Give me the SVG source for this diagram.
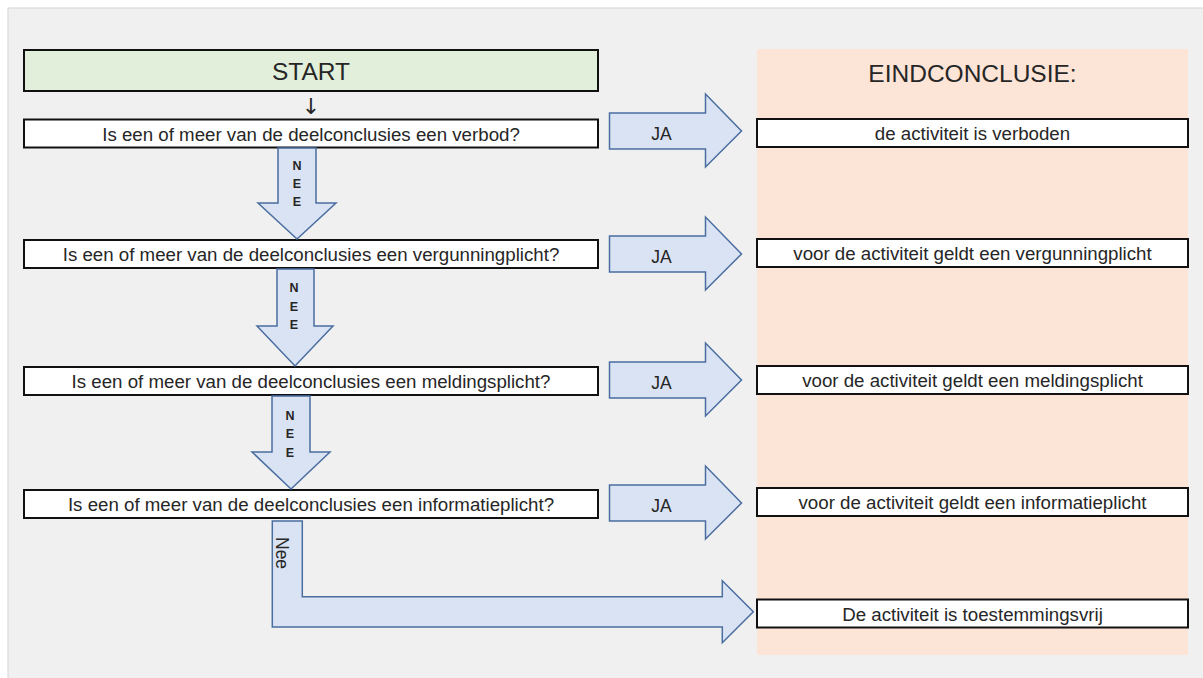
<svg xmlns="http://www.w3.org/2000/svg" width="1203" height="678" viewBox="0 0 1203 678">
  <style>
    .box { fill: #ffffff; stroke: #111111; stroke-width: 2; }
    .t { font-family: "Liberation Sans", Arial, sans-serif; font-size: 18.7px; fill: #262626; text-anchor: middle; }
    .title { font-family: "Liberation Sans", Arial, sans-serif; font-size: 24.5px; fill: #262626; text-anchor: middle; }
    .arr { fill: #dae3f3; stroke: #4a6ea0; stroke-width: 1.5; stroke-linejoin: miter; }
    .nee { font-family: "Liberation Sans", Arial, sans-serif; font-size: 12.5px; font-weight: bold; fill: #262626; text-anchor: middle; }
    .ja { font-family: "Liberation Sans", Arial, sans-serif; font-size: 17.5px; fill: #262626; text-anchor: middle; }
  </style>
  <rect x="0" y="0" width="1203" height="678" fill="#ffffff"/>
  <rect x="8" y="8" width="1200" height="675" fill="#f0f0f0" stroke="#d6d6d6" stroke-width="1"/>

  <g id="eindconclusie-panel">
    <rect x="757" y="49" width="431" height="606" fill="#fce4d6"/>
    <text class="title" x="972.5" y="82">EINDCONCLUSIE:</text>
  </g>

  <g id="start">
    <rect x="24" y="50" width="574" height="41" fill="#e2efda" stroke="#111111" stroke-width="2"/>
    <text class="title" x="311" y="79.5">START</text>
    <text x="311" y="114" font-family="DejaVu Sans, sans-serif" font-size="22" fill="#262626" text-anchor="middle">↓</text>
  </g>

  <g id="q1">
    <rect class="box" x="24" y="119.5" width="574" height="28"/>
    <text class="t" x="311" y="140.5">Is een of meer van de deelconclusies een verbod?</text>
  </g>
  <g id="q2">
    <rect class="box" x="24" y="240" width="574" height="28"/>
    <text class="t" x="311" y="261">Is een of meer van de deelconclusies een vergunningplicht?</text>
  </g>
  <g id="q3">
    <rect class="box" x="24" y="367" width="574" height="28"/>
    <text class="t" x="311" y="388">Is een of meer van de deelconclusies een meldingsplicht?</text>
  </g>
  <g id="q4">
    <rect class="box" x="24" y="490" width="574" height="28"/>
    <text class="t" x="311" y="511">Is een of meer van de deelconclusies een informatieplicht?</text>
  </g>

  <g id="r1">
    <rect class="box" x="757" y="119" width="431" height="28"/>
    <text class="t" x="972.5" y="140">de activiteit is verboden</text>
  </g>
  <g id="r2">
    <rect class="box" x="757" y="239" width="431" height="28"/>
    <text class="t" x="972.5" y="260">voor de activiteit geldt een vergunningplicht</text>
  </g>
  <g id="r3">
    <rect class="box" x="757" y="366" width="431" height="28"/>
    <text class="t" x="972.5" y="387">voor de activiteit geldt een meldingsplicht</text>
  </g>
  <g id="r4">
    <rect class="box" x="757" y="488" width="431" height="28"/>
    <text class="t" x="972.5" y="509">voor de activiteit geldt een informatieplicht</text>
  </g>
  <g id="r5">
    <rect class="box" x="757" y="599.5" width="431" height="28"/>
    <text class="t" x="972.5" y="620.5">De activiteit is toestemmingsvrij</text>
  </g>

  <g id="connectors">
    <polygon class="arr" points="278,148 316,148 316,203 336,203 297,239 258,203 278,203"/>
    <text class="nee" x="297" y="170">N</text>
    <text class="nee" x="297" y="188">E</text>
    <text class="nee" x="297" y="206">E</text>

    <polygon class="arr" points="277,269 314,269 314,326 333,326 295,366 257,326 277,326"/>
    <text class="nee" x="294" y="292">N</text>
    <text class="nee" x="294" y="310.5">E</text>
    <text class="nee" x="294" y="329">E</text>

    <polygon class="arr" points="272,396 310,396 310,452 330,452 291,489 252,452 272,452"/>
    <text class="nee" x="290" y="420">N</text>
    <text class="nee" x="290" y="438">E</text>
    <text class="nee" x="290" y="456.5">E</text>

    <polygon class="arr" points="609.5,113 705.5,113 705.5,94 741.5,131 705.5,167 705.5,149 609.5,149"/>
    <text class="ja" x="661.5" y="140">JA</text>
    <polygon class="arr" points="609.5,236 705.5,236 705.5,217 741.5,254 705.5,290 705.5,272 609.5,272"/>
    <text class="ja" x="661.5" y="263">JA</text>
    <polygon class="arr" points="609.5,362 705.5,362 705.5,343 741.5,380 705.5,416 705.5,398 609.5,398"/>
    <text class="ja" x="661.5" y="389">JA</text>
    <polygon class="arr" points="609.5,485 705.5,485 705.5,466 741.5,503 705.5,539 705.5,521 609.5,521"/>
    <text class="ja" x="661.5" y="512">JA</text>

    <polygon class="arr" points="272.3,521 302.3,521 302.3,596.7 722.3,596.7 722.3,580.7 753.3,611.7 722.3,642.7 722.3,627 272.3,627"/>
    <text class="ja" transform="translate(276,537) rotate(90)" style="text-anchor:start">Nee</text>
  </g>
</svg>
